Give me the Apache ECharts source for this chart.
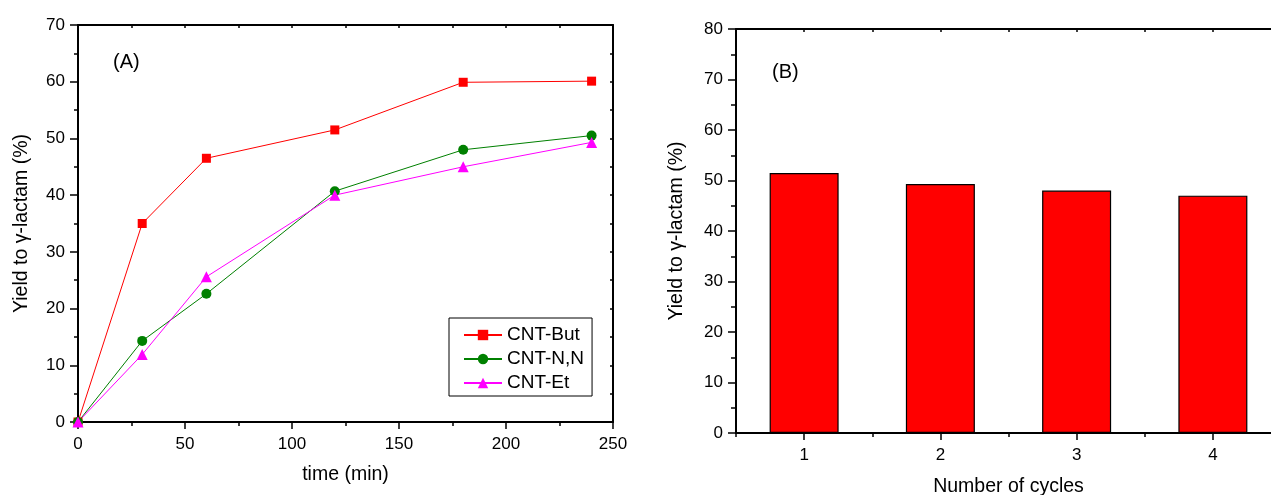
<!DOCTYPE html>
<html>
<head>
<meta charset="utf-8">
<script src="https://cdn.jsdelivr.net/npm/echarts@6/dist/echarts.min.js"></script>
<style>
html,body{margin:0;padding:0;background:#fff;overflow:hidden;}
#chart{width:1271px;height:495px;}
</style>
</head>
<body>
<div id="chart"></div>
<script>
// ---- Data ----
const timeMin = [0, 30, 60, 120, 180, 240];
const cntBut = [0, 35.0, 46.5, 51.5, 59.9, 60.1];
const cntNN  = [0, 14.3, 22.6, 40.7, 48.0, 50.5];
const cntEt  = [0, 11.9, 25.6, 40.0, 45.0, 49.3];
const seriesNames = ['CNT-But', 'CNT-N,N', 'CNT-Et'];
const cycles = [1, 2, 3, 4];
const cycleYield = [51.5, 49.3, 48.0, 47.0];
const panelLabels = ['(A)', '(B)'];
const yTitle = 'Yield to γ-lactam (%)';
const xTitleA = 'time (min)';
const xTitleB = 'Number of cycles';

const FONT = '"Liberation Sans", Arial, sans-serif';
const pair = (xs, ys) => xs.map((x, i) => [x, ys[i]]);
const axisLineStyle = { color: '#000', width: 2 };
const labelStyle = { color: '#000', fontSize: 17, fontFamily: FONT };
const nameStyle = { color: '#000', fontSize: 19.5, fontFamily: FONT };

const chart = echarts.init(document.getElementById('chart'));
const option = {
  backgroundColor: '#fff',
  animation: false,
  textStyle: { fontFamily: FONT },
  grid: [
    { left: 78, top: 25, width: 535, height: 397, containLabel: false, outerBoundsMode: 'none' },
    { left: 736, top: 29, width: 545, height: 404, containLabel: false, outerBoundsMode: 'none' }
  ],
  graphic: [
    { type: 'text', left: 113, top: 52, style: { text: panelLabels[0], fontSize: 20, fontFamily: FONT, fill: '#000' } },
    { type: 'text', left: 772, top: 62, style: { text: panelLabels[1], fontSize: 20, fontFamily: FONT, fill: '#000' } }
  ],
  legend: {
    data: seriesNames,
    orient: 'vertical',
    left: 449, top: 318,
    padding: [7, 8, 3, 14],
    itemWidth: 38, itemHeight: 13, itemGap: 4, itemTextGap: 7,
    borderColor: '#000', borderWidth: 1,
    textStyle: { color: '#000', fontSize: 19, fontFamily: FONT, lineHeight: 20 }
  },
  xAxis: [
    { // A bottom
      gridIndex: 0, type: 'value', min: 0, max: 250, interval: 50, position: 'bottom',
      name: xTitleA, nameLocation: 'middle', nameGap: 43, nameTextStyle: nameStyle,
      axisLine: { show: true, onZero: false, lineStyle: axisLineStyle },
      axisTick: { show: true, length: 7, lineStyle: { color: '#000', width: 1.5 } },
      minorTick: { show: true, splitNumber: 2, length: 4, lineStyle: { color: '#000', width: 1.5 } },
      axisLabel: Object.assign({ margin: 14 }, labelStyle),
      splitLine: { show: false }
    },
    { // A top mirror
      gridIndex: 0, type: 'value', min: 0, max: 250, interval: 50, position: 'top',
      axisLine: { show: true, onZero: false, lineStyle: axisLineStyle },
      axisTick: { show: true, inside: true, length: 3, lineStyle: { color: '#000', width: 1.5 } },
      minorTick: { show: true, splitNumber: 2, length: 3, lineStyle: { color: '#000', width: 1.5 } },
      axisLabel: { show: false }, splitLine: { show: false }
    },
    { // B bottom major
      gridIndex: 1, type: 'value', min: 0.5, max: 4.5, position: 'bottom',
      name: xTitleB, nameLocation: 'middle', nameGap: 44, nameTextStyle: nameStyle,
      axisLine: { show: true, onZero: false, lineStyle: axisLineStyle },
      axisTick: { show: true, length: 7, customValues: cycles, lineStyle: { color: '#000', width: 1.5 } },
      axisLabel: Object.assign({ margin: 14, customValues: cycles }, labelStyle),
      splitLine: { show: false }
    },
    { // B bottom minor overlay
      gridIndex: 1, type: 'value', min: 0.5, max: 4.5, position: 'bottom', offset: 0,
      axisLine: { show: false },
      axisTick: { show: true, length: 4, customValues: [0.5, 1.5, 2.5, 3.5, 4.5], lineStyle: { color: '#000', width: 1.5 } },
      axisLabel: { show: false }, splitLine: { show: false }
    },
    { // B top mirror
      gridIndex: 1, type: 'value', min: 0.5, max: 4.5, position: 'top',
      axisLine: { show: true, onZero: false, lineStyle: axisLineStyle },
      axisTick: { show: true, inside: true, length: 3, customValues: [0.5, 1, 1.5, 2, 2.5, 3, 3.5, 4, 4.5], lineStyle: { color: '#000', width: 1.5 } },
      axisLabel: { show: false }, splitLine: { show: false }
    }
  ],
  yAxis: [
    { // A left
      gridIndex: 0, type: 'value', min: 0, max: 70, interval: 10, position: 'left',
      name: yTitle, nameLocation: 'middle', nameGap: 46, nameRotate: 90, nameTextStyle: nameStyle,
      axisLine: { show: true, onZero: false, lineStyle: axisLineStyle },
      axisTick: { show: true, length: 8, lineStyle: { color: '#000', width: 1.5 } },
      minorTick: { show: true, splitNumber: 2, length: 4, lineStyle: { color: '#000', width: 1.5 } },
      axisLabel: Object.assign({ margin: 13 }, labelStyle),
      splitLine: { show: false }
    },
    { // A right mirror
      gridIndex: 0, type: 'value', min: 0, max: 70, interval: 10, position: 'right',
      axisLine: { show: true, onZero: false, lineStyle: axisLineStyle },
      axisTick: { show: true, inside: true, length: 3, lineStyle: { color: '#000', width: 1.5 } },
      minorTick: { show: true, splitNumber: 2, length: 3, lineStyle: { color: '#000', width: 1.5 } },
      axisLabel: { show: false }, splitLine: { show: false }
    },
    { // B left
      gridIndex: 1, type: 'value', min: 0, max: 80, interval: 10, position: 'left',
      name: yTitle, nameLocation: 'middle', nameGap: 49, nameRotate: 90, nameTextStyle: nameStyle,
      axisLine: { show: true, onZero: false, lineStyle: axisLineStyle },
      axisTick: { show: true, length: 8, lineStyle: { color: '#000', width: 1.5 } },
      minorTick: { show: true, splitNumber: 2, length: 5, lineStyle: { color: '#000', width: 1.5 } },
      axisLabel: Object.assign({ margin: 13 }, labelStyle),
      splitLine: { show: false }
    }
  ],
  series: [
    {
      name: seriesNames[0], type: 'line', xAxisIndex: 0, yAxisIndex: 0,
      data: pair(timeMin, cntBut), symbol: 'rect', symbolSize: 9, clip: false,
      itemStyle: { color: '#ff0000' }, lineStyle: { color: '#ff0000', width: 1 }
    },
    {
      name: seriesNames[1], type: 'line', xAxisIndex: 0, yAxisIndex: 0,
      data: pair(timeMin, cntNN), symbol: 'circle', symbolSize: 10, clip: false,
      itemStyle: { color: '#008000' }, lineStyle: { color: '#008000', width: 1 }
    },
    {
      name: seriesNames[2], type: 'line', xAxisIndex: 0, yAxisIndex: 0,
      data: pair(timeMin, cntEt), symbol: 'triangle', symbolSize: 11, clip: false,
      itemStyle: { color: '#ff00ff' }, lineStyle: { color: '#ff00ff', width: 1 }
    },
    {
      name: 'cycles', type: 'bar', xAxisIndex: 2, yAxisIndex: 2,
      data: pair(cycles, cycleYield), barWidth: 69,
      itemStyle: { color: '#ff0000', borderColor: '#000', borderWidth: 1.2 }
    }
  ]
};
chart.setOption(option);
</script>
</body>
</html>
